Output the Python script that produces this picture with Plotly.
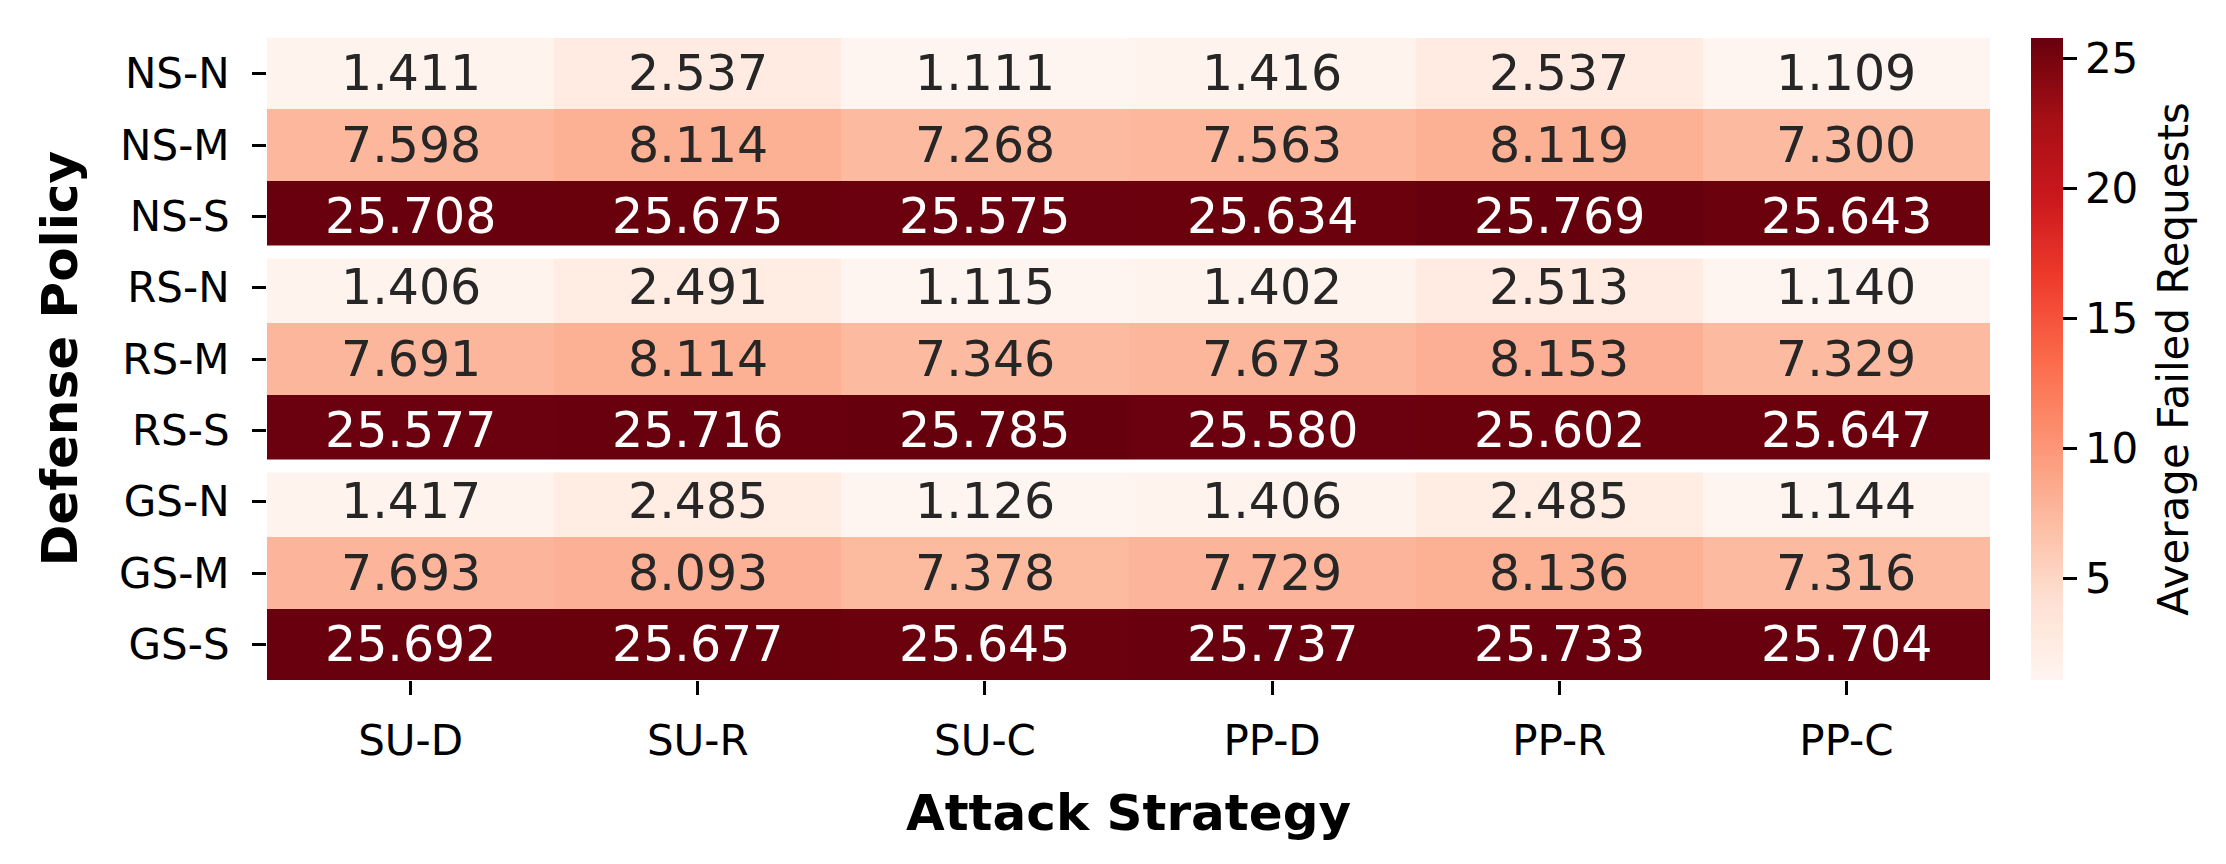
import plotly.graph_objects as go

strategies = ["SU-D", "SU-R", "SU-C", "PP-D", "PP-R", "PP-C"]
policies = ["NS-N", "NS-M", "NS-S", "RS-N", "RS-M", "RS-S", "GS-N", "GS-M", "GS-S"]

ns_n = [1.411, 2.537, 1.111, 1.416, 2.537, 1.109]
ns_m = [7.598, 8.114, 7.268, 7.563, 8.119, 7.300]
ns_s = [25.708, 25.675, 25.575, 25.634, 25.769, 25.643]
rs_n = [1.406, 2.491, 1.115, 1.402, 2.513, 1.140]
rs_m = [7.691, 8.114, 7.346, 7.673, 8.153, 7.329]
rs_s = [25.577, 25.716, 25.785, 25.580, 25.602, 25.647]
gs_n = [1.417, 2.485, 1.126, 1.406, 2.485, 1.144]
gs_m = [7.693, 8.093, 7.378, 7.729, 8.136, 7.316]
gs_s = [25.692, 25.677, 25.645, 25.737, 25.733, 25.704]

z = [ns_n, ns_m, ns_s, rs_n, rs_m, rs_s, gs_n, gs_m, gs_s]

# matplotlib "Reds"
reds = ["#fff5f0", "#fee0d2", "#fcbba1", "#fc9272", "#fb6a4a",
        "#ef3b2c", "#cb181d", "#a50f15", "#67000d"]
colorscale = [[i / (len(reds) - 1), c] for i, c in enumerate(reds)]

zmin = min(min(r) for r in z)
zmax = max(max(r) for r in z)

FONT = "DejaVu Sans"

fig = go.Figure()
fig.add_trace(go.Heatmap(
    z=z, x=strategies, y=policies,
    colorscale=colorscale, zmin=zmin, zmax=zmax,
    showscale=True,
    colorbar=dict(
        x=1.0238, xanchor="left", xpad=0, ypad=0,
        y=0.5, yanchor="middle", len=1, lenmode="fraction",
        thickness=32, outlinewidth=0,
        ticks="outside", ticklen=14, tickwidth=3, tickcolor="black",
        tickvals=[5, 10, 15, 20, 25],
        tickfont=dict(family=FONT, size=42, color="black"),
    ),
))

# cell annotations
for i, row in enumerate(z):
    for j, v in enumerate(row):
        frac = (v - zmin) / (zmax - zmin)
        col = "white" if frac > 0.6 else "#262626"
        fig.add_annotation(x=strategies[j], y=policies[i], text=f"{v:.3f}",
                           showarrow=False,
                           font=dict(family=FONT, size=49, color=col))

# white separators between groups
for yb in [2.5, 5.5]:
    fig.add_shape(type="line", xref="x", yref="y", x0=-0.5, x1=5.5, y0=yb, y1=yb,
                  line=dict(color="white", width=13))

fig.add_annotation(text="<b>Attack Strategy</b>", xref="paper", yref="paper",
                   x=0.5, y=-0.207, xanchor="center", yanchor="middle",
                   showarrow=False, font=dict(family=FONT, size=50, color="black"))
fig.add_annotation(text="<b>Defense Policy</b>", xref="paper", yref="paper",
                   x=-0.120, y=0.5, xanchor="center", yanchor="middle", textangle=-90,
                   showarrow=False, font=dict(family=FONT, size=50, color="black"))
fig.add_annotation(text="Average Failed Requests", xref="paper", yref="paper",
                   x=1.106, y=0.5, xanchor="center", yanchor="middle", textangle=-90,
                   showarrow=False, font=dict(family=FONT, size=42, color="black"))

fig.update_xaxes(range=[-0.5, 5.5], ticks="outside", ticklen=14, tickwidth=3,
                 tickcolor="black", showgrid=False, zeroline=False, showline=False,
                 tickfont=dict(family=FONT, size=42, color="black"),
                 ticklabelstandoff=10)
fig.update_yaxes(range=[8.5, -0.5], ticks="outside", ticklen=14, tickwidth=3,
                 tickcolor="black", showgrid=False, zeroline=False, showline=False,
                 tickfont=dict(family=FONT, size=42, color="black"),
                 ticklabelstandoff=14)

fig.update_layout(
    width=2226, height=864,
    margin=dict(l=259, r=244, t=30, b=192, autoexpand=False),
    paper_bgcolor="white", plot_bgcolor="white",
    font=dict(family=FONT),
)

fig.write_html("out.html")
